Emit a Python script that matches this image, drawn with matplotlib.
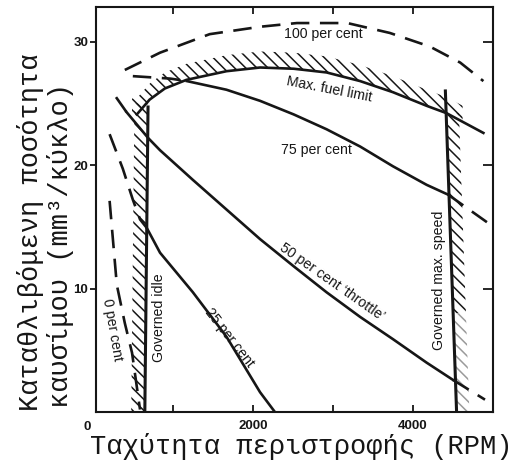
import numpy as np
import matplotlib
matplotlib.use("Agg")
import matplotlib.pyplot as plt

# ---------------- data (rpm, mm^3 per stroke) ----------------
hundred_x = [400, 840, 1460, 2090, 2550, 3180, 3710, 4210, 4590, 4880]
hundred_y = [27.7, 29.1, 30.6, 31.2, 31.5, 31.5, 30.7, 29.6, 28.3, 26.8]

maxfuel_x = [550, 710, 900, 1170, 1670, 2090, 2510, 2920, 3340, 3750, 4170, 4420, 4880]
maxfuel_y = [24.1, 25.3, 26.2, 26.9, 27.6, 27.9, 27.8, 27.5, 26.8, 25.9, 24.8, 24.2, 22.6]

p75_dash_l_x = [500, 970, 1175]
p75_dash_l_y = [27.2, 27.0, 26.8]
p75_x = [1175, 1670, 2090, 2510, 2920, 3340, 3750, 4170, 4440]
p75_y = [26.8, 26.1, 25.2, 24.1, 22.9, 21.5, 19.9, 18.4, 17.6]
p75_dash_r_x = [4440, 4940]
p75_dash_r_y = [17.6, 15.3]

p50_dash_l_x = [290, 420]
p50_dash_l_y = [25.5, 24.3]
p50_x = [420, 690, 840, 1250, 1670, 2090, 2510, 2920, 3340, 3750, 4170, 4500]
p50_y = [24.3, 22.2, 21.2, 18.8, 16.4, 14.0, 11.8, 9.7, 7.7, 5.9, 4.0, 2.6]
p50_dash_r_x = [4500, 4900]
p50_dash_r_y = [2.6, 1.0]

p25_dash_x = [210, 375, 500, 590, 675]
p25_dash_y = [22.5, 19.7, 17.2, 15.6, 14.9]
p25_x = [675, 840, 1250, 1670, 2090, 2275]
p25_y = [14.9, 12.9, 9.7, 6.1, 1.6, 0.0]

p0_x = [210, 300, 400, 490, 590]
p0_y = [17.1, 10.3, 7.2, 4.8, 0.2]

idle_x = [690, 650]
idle_y = [24.7, 0.0]
maxspeed_x = [4405, 4545]
maxspeed_y = [26.0, 0.0]

xtick_vals = [1000, 2000, 3000, 4000]
xtick_labels = ["", "2000", "", "4000"]
ytick_vals = [10, 20, 30]
ytick_labels = ["10", "20", "30"]

# ---------------- figure ----------------
plt.rcParams["hatch.linewidth"] = 1.1
ink = "#161616"
fig = plt.figure(figsize=(5.14, 4.63), dpi=100)
ax = fig.add_axes([96 / 514, 51 / 463, 397 / 514, 405 / 463])
ax.set_xlim(40, 5000)
ax.set_ylim(0, 32.8)

lw = 1.9
dash = (0, (7, 4))

# hatched limit bands
bx = np.linspace(maxfuel_x[0] - 60, 4620, 200)
lower = np.interp(bx, maxfuel_x, maxfuel_y)
ax.fill_between(bx, lower, lower + 1.3, facecolor="none", edgecolor=ink,
                hatch="\\\\\\", linewidth=0)
by = np.linspace(0, 25.0, 50)
ix = np.interp(by, idle_y[::-1], idle_x[::-1])
ax.fill_betweenx(by, ix - 170, ix, facecolor="none", edgecolor=ink,
                 hatch="\\\\\\", linewidth=0)
sy = np.linspace(8.0, 24.2, 50)
sx = np.interp(sy, maxspeed_y[::-1], maxspeed_x[::-1])
ax.fill_betweenx(sy, sx, sx + 160, facecolor="none", edgecolor=ink,
                 hatch="\\\\\\", linewidth=0)
sy2 = np.linspace(0.0, 8.0, 20)
sx2 = np.interp(sy2, maxspeed_y[::-1], maxspeed_x[::-1])
ax.fill_betweenx(sy2, sx2, sx2 + 160, facecolor="none", edgecolor="#9a9a9a",
                 hatch="\\\\\\", linewidth=0)

# curves
ax.plot(hundred_x, hundred_y, color=ink, lw=lw, ls=dash)
ax.plot(maxfuel_x, maxfuel_y, color=ink, lw=lw)
ax.plot(p75_dash_l_x, p75_dash_l_y, color=ink, lw=lw, ls=dash)
ax.plot(p75_x, p75_y, color=ink, lw=lw)
ax.plot(p75_dash_r_x, p75_dash_r_y, color=ink, lw=lw, ls=dash)
ax.plot(p50_dash_l_x, p50_dash_l_y, color=ink, lw=lw, ls=dash)
ax.plot(p50_x, p50_y, color=ink, lw=lw)
ax.plot(p50_dash_r_x, p50_dash_r_y, color=ink, lw=lw, ls=dash)
ax.plot(p25_dash_x, p25_dash_y, color=ink, lw=lw, ls=dash)
ax.plot(p25_x, p25_y, color=ink, lw=lw)
ax.plot(p0_x, p0_y, color=ink, lw=lw, ls=dash)
ax.plot(idle_x, idle_y, color=ink, lw=2.2)
ax.plot(maxspeed_x, maxspeed_y, color=ink, lw=2.2)

# annotations
af = dict(family="Liberation Sans", fontsize=10.2, color=ink, ha="center", va="center")
ax.text(2875, 30.6, "100 per cent", **af)
ax.text(2960, 26.1, "Max. fuel limit", rotation=-11, **af)
ax.text(2800, 21.2, "75 per cent", **af)
ax.text(2990, 10.5, "50 per cent \u2018throttle\u2019", rotation=-35, **af)
ax.text(1710, 6.0, "25 per cent", rotation=-52, **af)
ax.text(250, 6.7, "0 per cent", rotation=-80, **af)
ax.text(830, 7.6, "Governed idle", rotation=90, **af)
ax.text(4330, 10.7, "Governed max. speed", rotation=90, **af)

# axes styling
for s in ax.spines.values():
    s.set_linewidth(1.5)
    s.set_color(ink)
ax.set_xticks(xtick_vals)
ax.set_xticklabels(xtick_labels, family="Liberation Sans", fontsize=9.5,
                   fontweight="bold")
ax.set_yticks(ytick_vals)
ax.set_yticklabels(ytick_labels, family="Liberation Sans", fontsize=9.5,
                   fontweight="bold")
ax.tick_params(axis="x", direction="in", top=True, bottom=True, length=5,
               width=1.3, colors=ink, pad=6)
ax.tick_params(axis="y", direction="out", left=True, right=False, length=4,
               width=1.3, colors=ink, pad=1.5)
axr = ax.twinx()
axr.set_ylim(ax.get_ylim())
axr.set_yticks(ytick_vals)
axr.set_yticklabels([])
axr.tick_params(axis="y", direction="in", length=7, width=1.3, colors=ink)
for s in axr.spines.values():
    s.set_visible(False)

ax.text(-0.022, -0.022, "0", transform=ax.transAxes, ha="center", va="top",
        family="Liberation Sans", fontsize=9.5, fontweight="bold", color=ink)

mono = "Liberation Mono"
fig.text(301 / 514, 1 - 446 / 463, "Ταχύτητα περιστροφής (RPM)", family=mono,
         fontsize=19.5, ha="center", va="center", color=ink)
fig.text(31 / 514, 1 - 232 / 463, "Καταθλιβόμενη ποσότητα", family=mono,
         fontsize=19.5, rotation=90, ha="center", va="center", color=ink)
fig.text(61 / 514, 1 - 245 / 463, "καυσίμου (mm³/κύκλο)", family=mono,
         fontsize=19.5, rotation=90, ha="center", va="center", color=ink)

fig.savefig("out.png", dpi=100)
